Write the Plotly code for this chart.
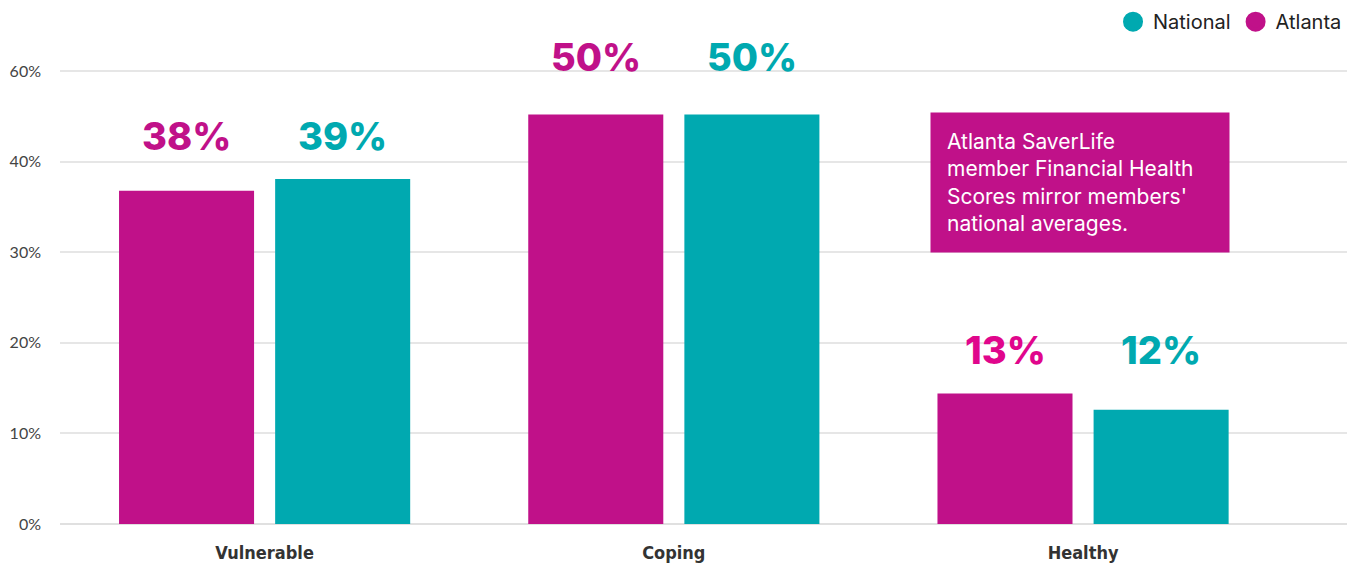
import plotly.graph_objects as go

categories = ["Vulnerable", "Coping", "Healthy"]
atlanta_values = [36.8, 45.2, 14.4]
national_values = [38.1, 45.2, 12.6]
atlanta_labels = ["38%", "50%", "13%"]
national_labels = ["39%", "50%", "12%"]
label_y = [42.8, 51.6, 19.2]
tick_vals = [0, 10, 20, 30, 40, 50]
tick_text = ["0%", "10%", "20%", "30%", "40%", "60%"]
note_text = "Atlanta SaverLife<br>member Financial Health<br>Scores mirror members'<br>national averages."

MAGENTA = "#c01189"
TEAL = "#00a9b0"

fig = go.Figure()
fig.add_trace(go.Bar(x=categories, y=atlanta_values, name="Atlanta",
                     marker=dict(color=MAGENTA, line=dict(width=0)),
                     showlegend=False, hoverinfo="skip"))
fig.add_trace(go.Bar(x=categories, y=national_values, name="National",
                     marker=dict(color=TEAL, line=dict(width=0)),
                     showlegend=False, hoverinfo="skip"))
# legend entries with circle markers
fig.add_trace(go.Scatter(x=[None], y=[None], mode="markers", name="National",
                         marker=dict(color=TEAL, size=22, symbol="circle",
                                     line=dict(color=TEAL, width=4))))
fig.add_trace(go.Scatter(x=[None], y=[None], mode="markers", name="Atlanta",
                         marker=dict(color=MAGENTA, size=22, symbol="circle",
                                     line=dict(color=MAGENTA, width=4))))

label_font = dict(family="Inter, Lato, Arial", size=38, weight=800)
for i, cat in enumerate(categories):
    fig.add_annotation(x=i, y=label_y[i], xref="x", yref="y", text=atlanta_labels[i],
                       showarrow=False, xshift=-78, yanchor="middle",
                       font=dict(color=MAGENTA if i != 2 else "#e0068c", **label_font))
    fig.add_annotation(x=i, y=label_y[i], xref="x", yref="y", text=national_labels[i],
                       showarrow=False, xshift=78, yanchor="middle",
                       font=dict(color=TEAL, **label_font))

fig.add_annotation(x=0.676, y=0.875, xref="paper", yref="paper", xanchor="left", yanchor="top",
                   text=note_text, showarrow=False, align="left", valign="top",
                   bgcolor=MAGENTA, borderpad=16, width=266, height=107,
                   font=dict(family="Inter, Lato, Arial", size=21, color="white"))

fig.update_layout(
    width=1349, height=559,
    margin=dict(l=52, r=10, t=45, b=43, autoexpand=False),
    paper_bgcolor="white", plot_bgcolor="white",
    barmode="group", bargap=0.237, bargroupgap=0.135,
    legend=dict(orientation="h", xref="container", yref="paper",
                x=0.9926, xanchor="right", y=1.108, yanchor="top",
                font=dict(family="Inter, Lato, Arial", size=20, color="#222"),
                itemsizing="trace", traceorder="normal", bgcolor="rgba(0,0,0,0)"),
    xaxis=dict(type="category", range=[-0.5, 2.645], showgrid=False, zeroline=False,
               showline=False, ticks="", automargin=False, ticklabelstandoff=16,
               tickfont=dict(family="Liberation Sans Narrow, DejaVu Sans Condensed, Arial", size=18,
                             color="#333", weight="bold")),
    yaxis=dict(range=[0, 52], tickvals=tick_vals, ticktext=tick_text, showgrid=True,
               gridcolor="#e6e6e6", gridwidth=1.5, zeroline=True, zerolinecolor="#e0e0e0",
               zerolinewidth=2, ticks="", ticklabelstandoff=18, automargin=False,
               tickfont=dict(family="Lato, Arial", size=16, color="#444")),
)

fig.write_html("out.html")
